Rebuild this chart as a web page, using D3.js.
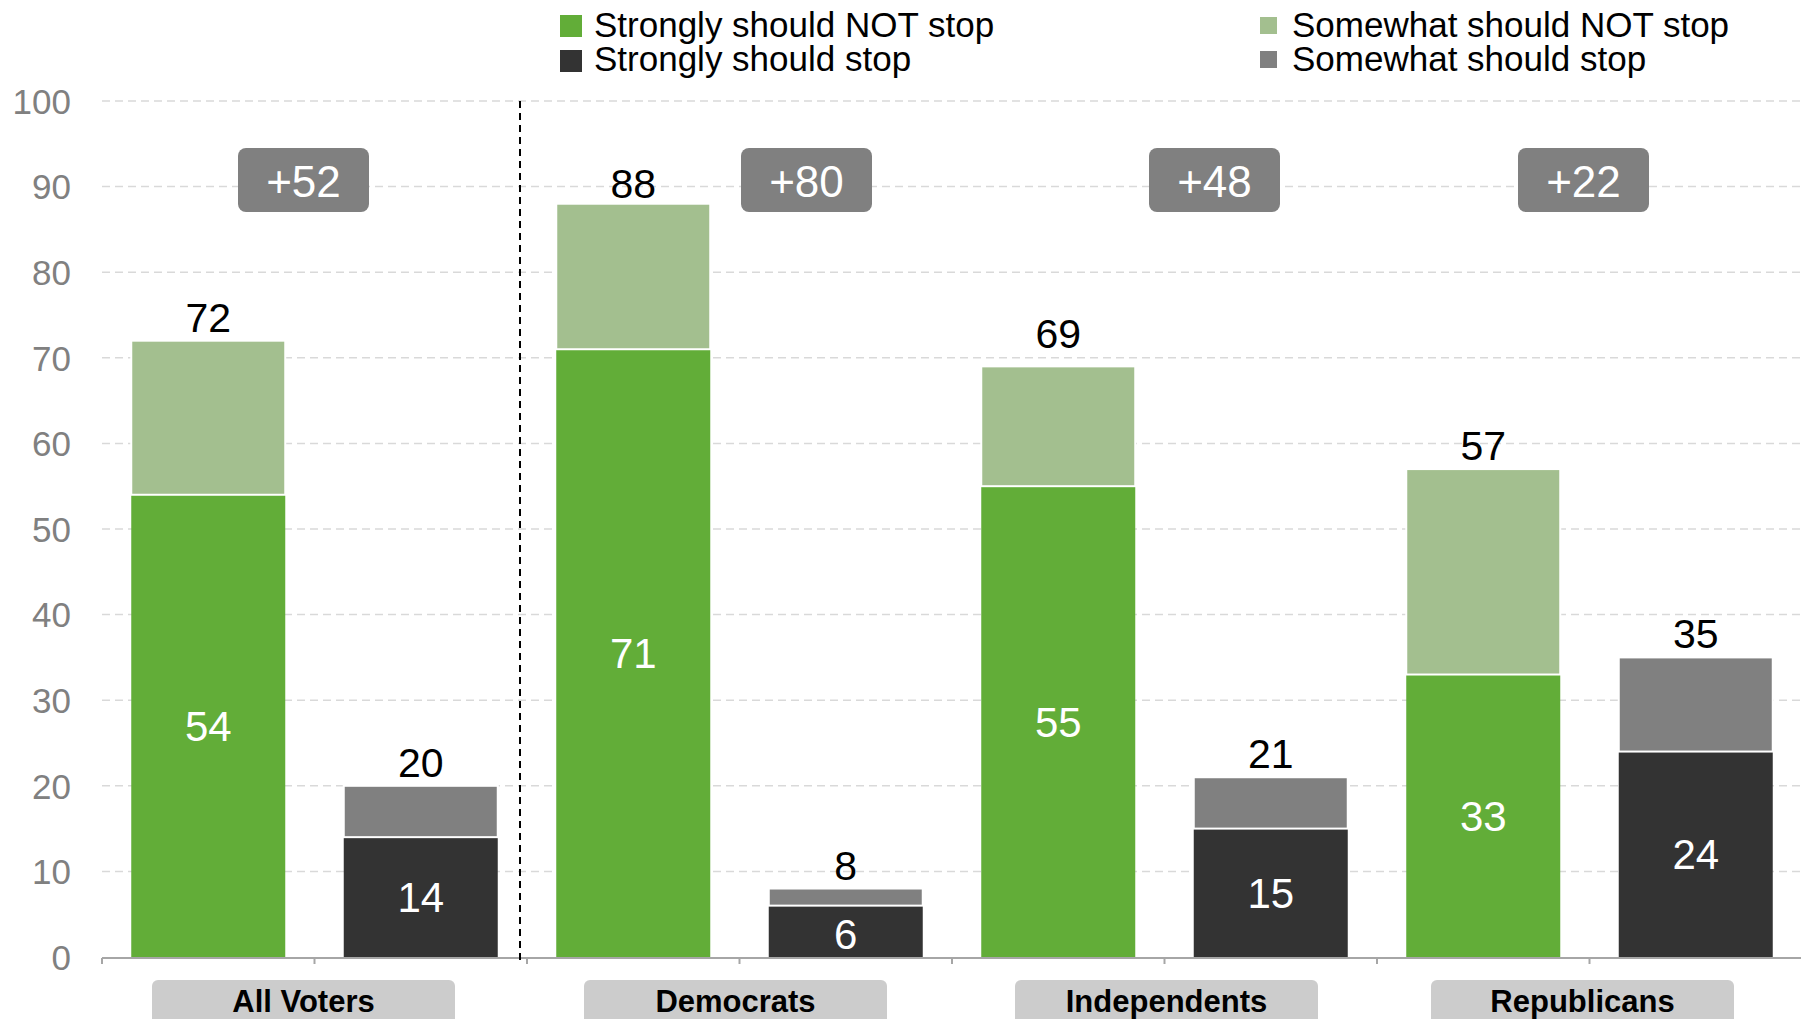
<!DOCTYPE html>
<html>
<head>
<meta charset="utf-8">
<script src="https://cdn.jsdelivr.net/npm/d3@7"></script>
<style>
  html, body { margin: 0; padding: 0; background: #ffffff; }
  svg { display: block; font-family: "Liberation Sans", Arial, sans-serif; }
</style>
</head>
<body>
<svg id="chart" width="1801" height="1019"></svg>
<script>
// ---------- data ----------
const groups = ["All Voters", "Democrats", "Independents", "Republicans"];
const stronglyNotStop = [54, 71, 55, 33];
const somewhatNotStop = [18, 17, 14, 24];
const stronglyStop = [14, 6, 15, 24];
const somewhatStop = [6, 2, 6, 11];
const netLabels = ["+52", "+80", "+48", "+22"];
const yTicks = [0, 10, 20, 30, 40, 50, 60, 70, 80, 90, 100];
const legendLabels = ["Strongly should NOT stop", "Strongly should stop", "Somewhat should NOT stop", "Somewhat should stop"];

// ---------- layout / style ----------
const colors = {
  strongNot: "#62AD38",
  someNot: "#A3BF8F",
  strongStop: "#333333",
  someStop: "#808080"
};
const badgeOffsets = [-11, 67, 50, -6];   // annotation offsets from group centre
const labelOffsets = [-11, -4, 2, -7];
const totalNotLift = [0, -3, 9, 0];        // extra lift of total labels (px)

const W = 1801, H = 1019;
const svg = d3.select("#chart");

// slots: each group has two bars (NOT stop, stop)
const slots = [];
groups.forEach((g, i) => { slots.push(g + "|not"); slots.push(g + "|stop"); });

const x = d3.scaleBand().domain(slots).range([102, 1802]).padding(0);
const y = d3.scaleLinear().domain([0, 100]).range([957, 101]);
const barW = 154;

// gridlines
svg.append("g")
  .selectAll("line")
  .data(yTicks.filter(d => d > 0))
  .join("line")
  .attr("x1", 102).attr("x2", W)
  .attr("y1", d => y(d)).attr("y2", d => y(d))
  .attr("stroke", "#D9D9D9").attr("stroke-width", 1.5)
  .attr("stroke-dasharray", "8,5");

// y axis labels
const yAxis = d3.axisLeft(y).tickValues(yTicks).tickSize(0).tickPadding(0);
const yg = svg.append("g").attr("transform", "translate(71,0)").call(yAxis);
yg.select(".domain").remove();
yg.selectAll("text")
  .attr("fill", "#808080")
  .attr("font-size", 35)
  .attr("font-family", "'Liberation Sans', Arial, sans-serif")
  .attr("dy", "0.35em");

// bars
function barX(i, kind) { return x(groups[i] + "|" + kind) + (x.bandwidth() - barW) / 2; }
function barC(i, kind) { return x(groups[i] + "|" + kind) + x.bandwidth() / 2; }

const barsG = svg.append("g");
groups.forEach((g, i) => {
  const a = stronglyNotStop[i], b = somewhatNotStop[i];
  barsG.append("rect")
    .attr("x", barX(i, "not")).attr("width", barW)
    .attr("y", y(a)).attr("height", y(0) - y(a))
    .attr("fill", colors.strongNot);
  barsG.append("rect")
    .attr("x", barX(i, "not")).attr("width", barW)
    .attr("y", y(a + b)).attr("height", y(a) - y(a + b))
    .attr("fill", colors.someNot)
    .attr("stroke", "#ffffff").attr("stroke-width", 2);
  const c = stronglyStop[i], d = somewhatStop[i];
  barsG.append("rect")
    .attr("x", barX(i, "stop")).attr("width", barW)
    .attr("y", y(c)).attr("height", y(0) - y(c))
    .attr("fill", colors.strongStop);
  barsG.append("rect")
    .attr("x", barX(i, "stop")).attr("width", barW)
    .attr("y", y(c + d)).attr("height", y(c) - y(c + d))
    .attr("fill", colors.someStop)
    .attr("stroke", "#ffffff").attr("stroke-width", 2);

  barsG.append("text")
    .attr("x", barC(i, "not")).attr("y", (y(a) + y(0)) / 2)
    .attr("dy", "0.36em").attr("text-anchor", "middle")
    .attr("fill", "#ffffff").attr("font-size", 42)
    .text(a);
  barsG.append("text")
    .attr("x", barC(i, "stop")).attr("y", (y(c) + y(0)) / 2 + (c < 10 ? 3 : 0))
    .attr("dy", "0.36em").attr("text-anchor", "middle")
    .attr("fill", "#ffffff").attr("font-size", 42)
    .text(c);

  barsG.append("text")
    .attr("x", barC(i, "not")).attr("y", y(a + b) - 9 - totalNotLift[i])
    .attr("text-anchor", "middle")
    .attr("fill", "#000000").attr("font-size", 41)
    .text(a + b);
  barsG.append("text")
    .attr("x", barC(i, "stop")).attr("y", y(c + d) - 9)
    .attr("text-anchor", "middle")
    .attr("fill", "#000000").attr("font-size", 41)
    .text(c + d);
});

// x axis baseline with slot ticks
svg.append("line")
  .attr("x1", 102).attr("x2", W).attr("y1", y(0) + 1).attr("y2", y(0) + 1)
  .attr("stroke", "#A6A6A6").attr("stroke-width", 2);
svg.append("g")
  .selectAll("line")
  .data(slots)
  .join("line")
  .attr("x1", d => x(d)).attr("x2", d => x(d))
  .attr("y1", y(0) + 1).attr("y2", y(0) + 7)
  .attr("stroke", "#A6A6A6").attr("stroke-width", 2);

// dashed separator after All Voters
svg.append("line")
  .attr("x1", x(groups[1] + "|not") - 7).attr("x2", x(groups[1] + "|not") - 7)
  .attr("y1", y(100)).attr("y2", y(0) + 8)
  .attr("stroke", "#000000").attr("stroke-width", 2)
  .attr("stroke-dasharray", "7,5");

function groupC(i) { return (x(groups[i] + "|not") + x(groups[i] + "|stop") + x.bandwidth()) / 2; }

// net badges
const badgeW = 131, badgeH = 64, badgeTop = 148;
groups.forEach((g, i) => {
  const cx = groupC(i) + badgeOffsets[i];
  svg.append("rect")
    .attr("x", cx - badgeW / 2).attr("y", badgeTop)
    .attr("width", badgeW).attr("height", badgeH)
    .attr("rx", 8).attr("ry", 8)
    .attr("fill", "#808080");
  svg.append("text")
    .attr("x", cx).attr("y", badgeTop + badgeH / 2 + 1)
    .attr("dy", "0.36em").attr("text-anchor", "middle")
    .attr("fill", "#ffffff").attr("font-size", 44)
    .text(netLabels[i]);
});

// category label boxes
const boxW = 303, boxTop = 980;
groups.forEach((g, i) => {
  const cx = groupC(i) + labelOffsets[i];
  svg.append("rect")
    .attr("x", cx - boxW / 2).attr("y", boxTop)
    .attr("width", boxW).attr("height", 60)
    .attr("rx", 6).attr("ry", 6)
    .attr("fill", "#CCCCCC");
  svg.append("text")
    .attr("x", cx).attr("y", 1012)
    .attr("text-anchor", "middle")
    .attr("fill", "#000000").attr("font-size", 31).attr("font-weight", "bold")
    .text(g);
});

// legend
const legendItems = [
  { label: legendLabels[0], color: colors.strongNot, x: 560, y: 15, s: 22, tx: 594, ty: 37 },
  { label: legendLabels[1], color: colors.strongStop, x: 560, y: 50, s: 22, tx: 594, ty: 71 },
  { label: legendLabels[2], color: colors.someNot, x: 1260, y: 17, s: 17, tx: 1292, ty: 37 },
  { label: legendLabels[3], color: colors.someStop, x: 1260, y: 51, s: 17, tx: 1292, ty: 71 }
];
const lg = svg.append("g");
legendItems.forEach(it => {
  lg.append("rect").attr("x", it.x).attr("y", it.y).attr("width", it.s).attr("height", it.s).attr("fill", it.color);
  lg.append("text").attr("x", it.tx).attr("y", it.ty)
    .attr("fill", "#000000").attr("font-size", 35)
    .text(it.label);
});
</script>
</body>
</html>
